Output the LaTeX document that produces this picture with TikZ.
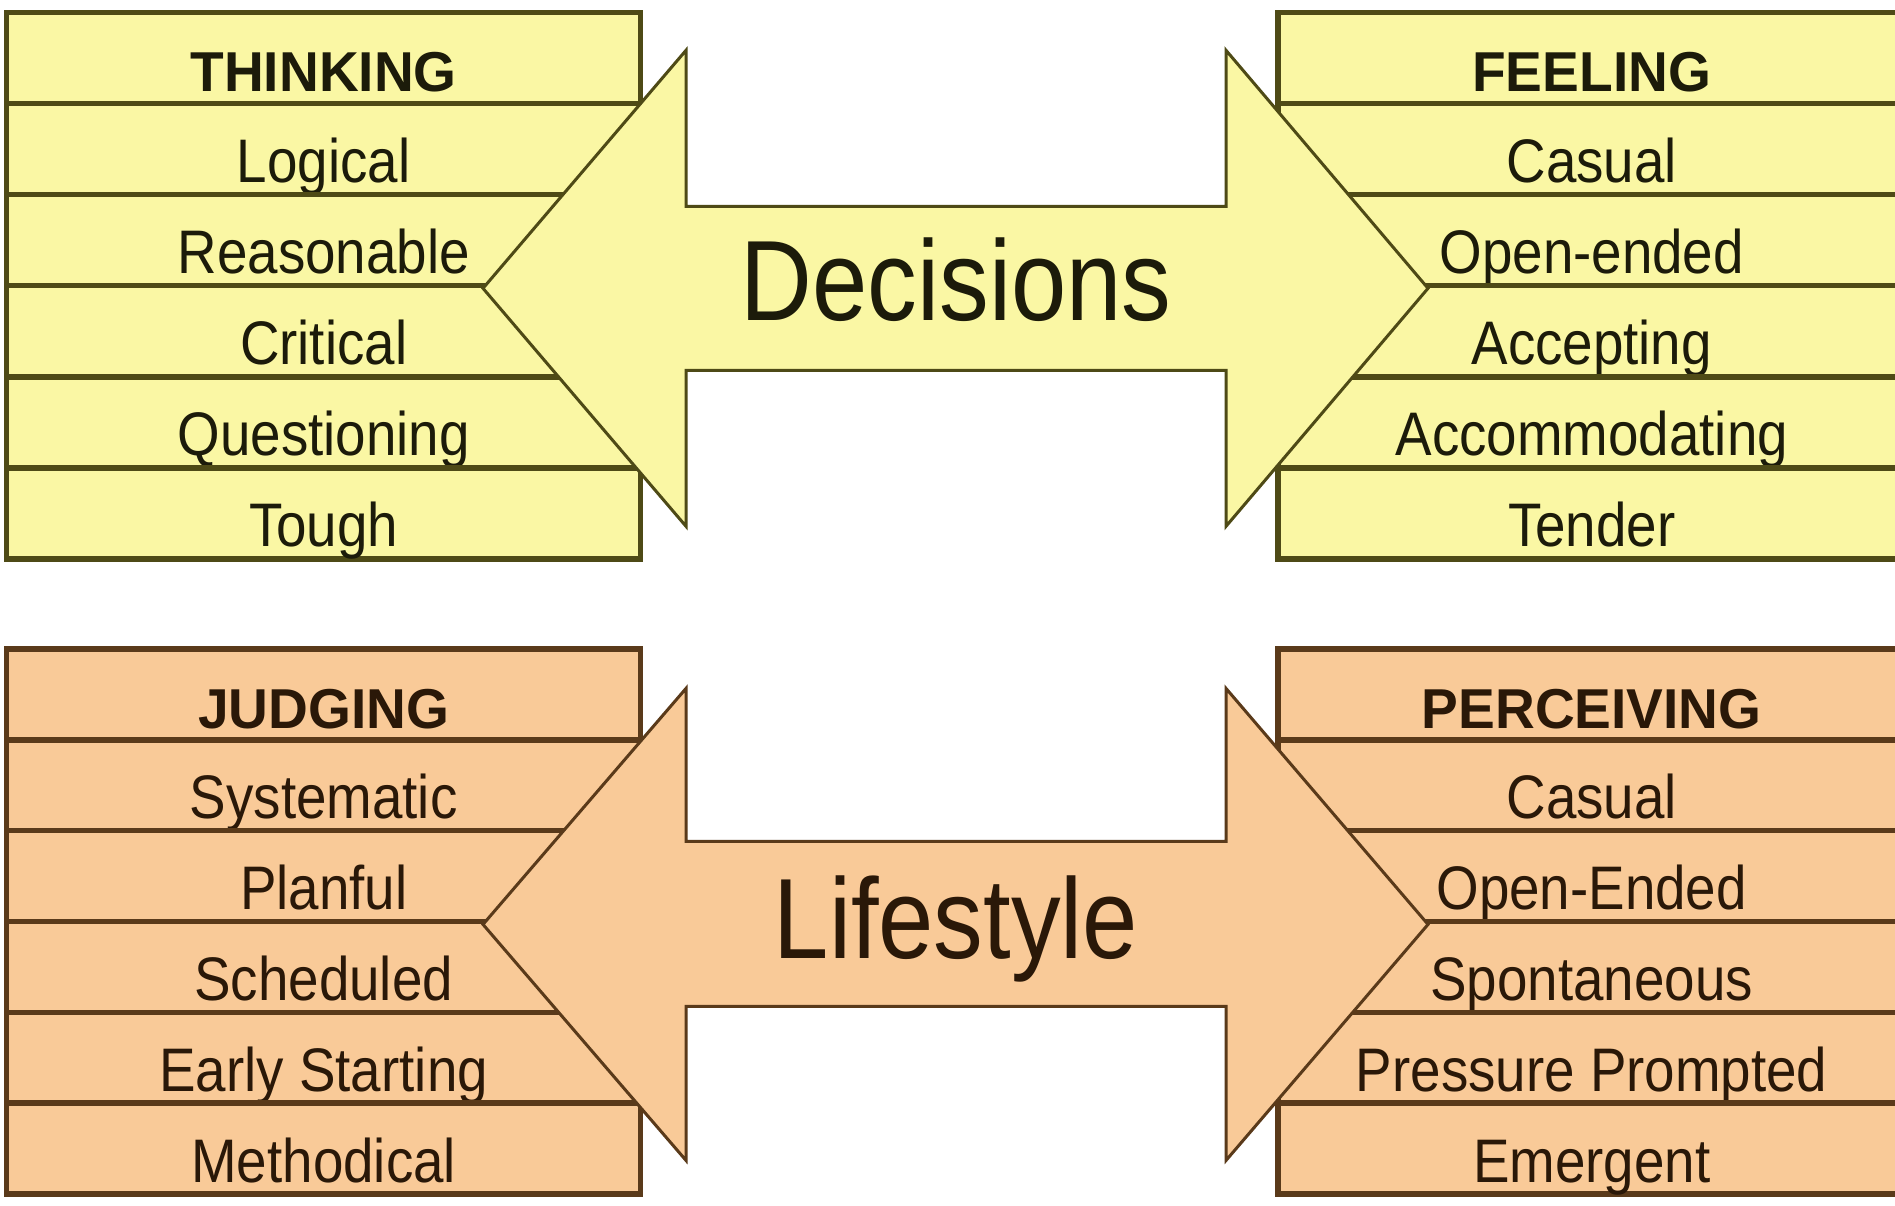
\documentclass[tikz,border=0pt]{standalone}
\usepackage{fontspec}
\setmainfont{Liberation Sans}[FakeStretch=0.89]
\newfontfamily\headfont{Liberation Sans}[FakeStretch=0.98]
\newfontfamily\bigfont{Liberation Sans}[FakeStretch=0.87]

\definecolor{lemonfill}{HTML}{FAF7A4}
\definecolor{lemonline}{HTML}{4E4A16}
\definecolor{lemontext}{HTML}{1C1B0A}
\definecolor{peachfill}{HTML}{F9CA98}
\definecolor{peachline}{HTML}{5A3A1A}
\definecolor{peachtext}{HTML}{2A1808}

\begin{document}
\begin{tikzpicture}[x=0.02cm,y=-0.02cm,
  rowcell/.style={draw, line width=0.11cm, minimum width=12.68cm, inner sep=0pt,
    text height=1.58cm, text depth=0.24cm, anchor=south west,
    font=\fontsize{35}{40}\selectfont},
  headcell/.style={rowcell, font=\headfont\bfseries\fontsize{32}{36}\selectfont},
  rightcell/.style={minimum width=12.56cm},
  lemon/.style={fill=lemonfill, draw=lemonline, text=lemontext},
  peach/.style={fill=peachfill, draw=peachline, text=peachtext},
  bigarrow/.style={line width=0.06cm, line join=miter},
  bigword/.style={anchor=base, font=\bigfont\fontsize{65}{70}\selectfont}]

\clip (0,0) rectangle (1895,1205);
\fill[white] (0,0) rectangle (1895,1205);

% ---- Decisions: thinking vs feeling ----
\node[headcell, lemon] (tl0) at (4,106.1) {THINKING};
\foreach \w [count=\i from 1] in {Logical, Reasonable, Critical, Questioning, Tough}
  \node[rowcell, lemon] (tl\i) at (4,{106.1+91.1*\i}) {\w};

\node[headcell, rightcell, lemon] (tr0) at (1275,106.1) {FEELING};
\foreach \w [count=\i from 1] in {Casual, Open-ended, Accepting, Accommodating, Tender}
  \node[rowcell, rightcell, lemon] (tr\i) at (1275,{106.1+91.1*\i}) {\w};

\draw[bigarrow, fill=lemonfill, draw=lemonline]
  (483,288.3) -- (686,50.3) -- (686,206.3) -- (1226,206.3) -- (1226,50.3)
  -- (1428,288.3) -- (1226,526.3) -- (1226,370.3) -- (686,370.3)
  -- (686,526.3) -- cycle;
\node[bigword, text=lemontext] (decisions) at (956,320) {Decisions};

% ---- Lifestyle: judging vs perceiving ----
\node[headcell, peach] (bl0) at (4,742.8) {JUDGING};
\foreach \w [count=\i from 1] in {Systematic, Planful, Scheduled, Early Starting, Methodical}
  \node[rowcell, peach] (bl\i) at (4,{742.8+90.8*\i}) {\w};

\node[headcell, rightcell, peach] (br0) at (1275,742.8) {PERCEIVING};
\foreach \w [count=\i from 1] in {Casual, Open-Ended, Spontaneous, Pressure Prompted, Emergent}
  \node[rowcell, rightcell, peach] (br\i) at (1275,{742.8+90.8*\i}) {\w};

\draw[bigarrow, fill=peachfill, draw=peachline]
  (483,924.4) -- (686,688.4) -- (686,841.4) -- (1226,841.4) -- (1226,688.4)
  -- (1428,924.4) -- (1226,1160.4) -- (1226,1006.4) -- (686,1006.4)
  -- (686,1160.4) -- cycle;
\node[bigword, text=peachtext] (lifestyle) at (956,958) {Lifestyle};

\end{tikzpicture}
\end{document}
